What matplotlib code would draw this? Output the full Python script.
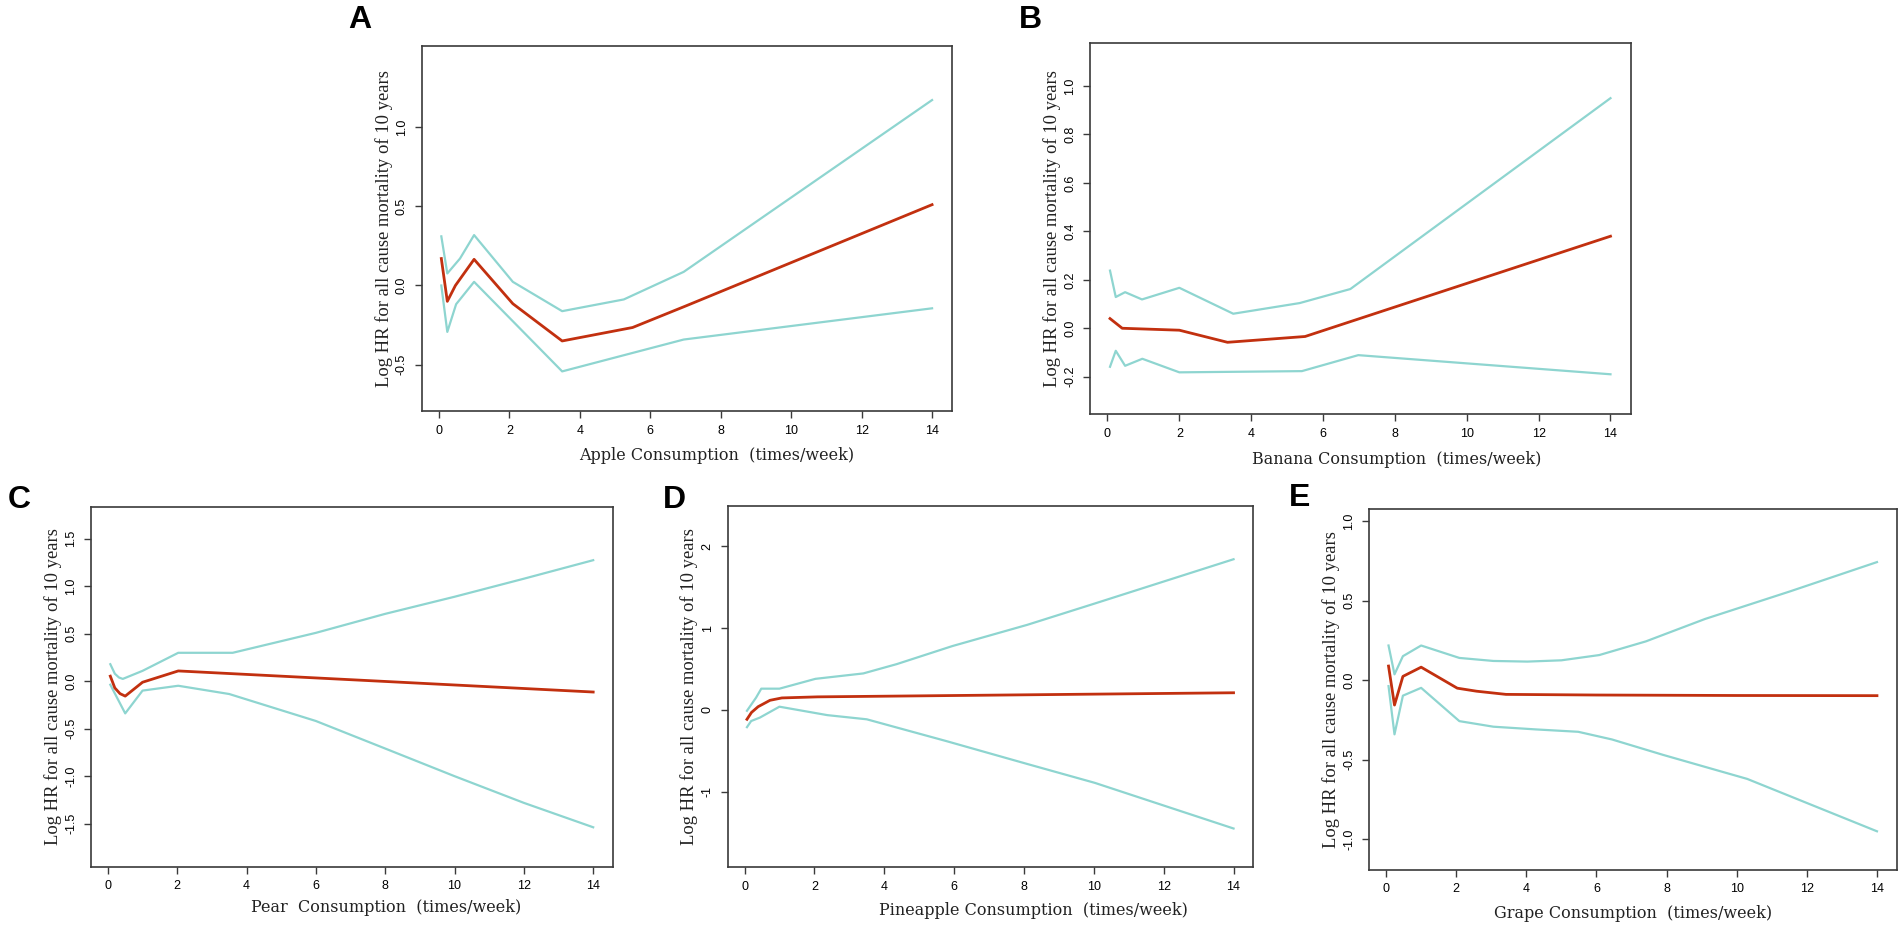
import matplotlib
matplotlib.use("Agg")
import matplotlib.pyplot as plt

W, H = 1902, 930
RED = "#C2300F"
CYAN = "#8ED5D0"
BOX = "#3a3a3a"

# ---------------- data ----------------
# A: Apple
apple_x_hr = [0.07, 0.24, 0.47, 1.0, 2.1, 3.5, 5.5, 7.0, 14]
apple_hr = [0.17, -0.10, 0.0, 0.165, -0.115, -0.35, -0.265, -0.13, 0.51]
apple_x_up = [0.07, 0.24, 0.6, 1.0, 2.1, 3.5, 5.25, 6.95, 14]
apple_up = [0.31, 0.076, 0.17, 0.318, 0.023, -0.162, -0.088, 0.086, 1.17]
apple_x_lo = [0.07, 0.24, 0.49, 1.0, 3.5, 6.95, 14]
apple_lo = [0.0, -0.293, -0.118, 0.023, -0.542, -0.341, -0.144]

# B: Banana
banana_x_hr = [0.07, 0.41, 2.0, 3.34, 5.5, 14]
banana_hr = [0.04, 0.0, -0.008, -0.058, -0.034, 0.38]
banana_x_up = [0.07, 0.23, 0.49, 0.96, 2.0, 3.5, 5.35, 6.76, 14]
banana_up = [0.238, 0.129, 0.149, 0.119, 0.167, 0.06, 0.104, 0.162, 0.95]
banana_x_lo = [0.07, 0.23, 0.49, 0.97, 2.0, 5.41, 6.98, 14]
banana_lo = [-0.159, -0.093, -0.155, -0.126, -0.182, -0.177, -0.111, -0.19]

# C: Pear
pear_x_hr = [0.07, 0.2, 0.35, 0.5, 1.0, 2.03, 14]
pear_hr = [0.054, -0.07, -0.13, -0.156, -0.01, 0.109, -0.113]
pear_x_up = [0.07, 0.2, 0.32, 0.43, 1.0, 2.03, 3.6, 6.0, 8.0, 10.0, 12.0, 14]
pear_up = [0.18, 0.08, 0.04, 0.025, 0.11, 0.30, 0.30, 0.51, 0.71, 0.89, 1.08, 1.275]
pear_x_lo = [0.07, 0.5, 1.0, 2.03, 3.5, 6.0, 8.0, 10.0, 12.0, 14]
pear_lo = [-0.036, -0.338, -0.098, -0.047, -0.134, -0.418, -0.708, -0.999, -1.28, -1.537]

# D: Pineapple
pine_x_hr = [0.07, 0.2, 0.39, 0.73, 1.07, 2.09, 14]
pine_hr = [-0.114, -0.03, 0.04, 0.118, 0.147, 0.16, 0.21]
pine_x_up = [0.07, 0.33, 0.48, 1.0, 2.03, 3.4, 4.36, 5.95, 8.1, 10.03, 14]
pine_up = [-0.01, 0.15, 0.26, 0.26, 0.38, 0.446, 0.56, 0.78, 1.04, 1.30, 1.84]
pine_x_lo = [0.07, 0.19, 0.44, 1.0, 2.37, 3.5, 5.77, 8.1, 10.03, 14]
pine_lo = [-0.21, -0.135, -0.093, 0.04, -0.063, -0.114, -0.379, -0.66, -0.89, -1.447]

# E: Grape
grape_x_hr = [0.07, 0.24, 0.48, 1.0, 2.03, 2.58, 3.42, 6.0, 10.0, 14]
grape_hr = [0.089, -0.156, 0.024, 0.082, -0.05, -0.069, -0.089, -0.093, -0.096, -0.097]
grape_x_up = [0.07, 0.24, 0.48, 1.0, 2.09, 3.06, 4.03, 5.0, 6.08, 7.41, 9.1, 11.52, 14]
grape_up = [0.218, 0.037, 0.151, 0.218, 0.14, 0.121, 0.117, 0.125, 0.158, 0.244, 0.385, 0.558, 0.742]
grape_x_lo = [0.07, 0.24, 0.48, 1.0, 2.09, 3.06, 4.27, 5.48, 6.44, 7.9, 10.3, 14]
grape_lo = [-0.037, -0.34, -0.097, -0.048, -0.257, -0.292, -0.309, -0.324, -0.372, -0.469, -0.62, -0.949]

x_ticks = [0, 2, 4, 6, 8, 10, 12, 14]
ylabel_text = "Log HR for all cause mortality of 10 years"
xlabels = ["Apple Consumption  (times/week)",
           "Banana Consumption  (times/week)",
           "Pear  Consumption  (times/week)",
           "Pineapple Consumption  (times/week)",
           "Grape Consumption  (times/week)"]
panel_letters = ["A", "B", "C", "D", "E"]

# ---------------- layout (pixels: left, right, top, bottom) ----------------
boxes = [
    (421.7, 951.7, 46.0, 410.7),
    (1090.0, 1630.5, 42.7, 414.0),
    (91.0, 612.5, 507.0, 866.6),
    (727.5, 1253.0, 506.0, 867.0),
    (1369.0, 1896.5, 509.4, 869.5),
]
ylims = [(-0.79, 1.511), (-0.354, 1.179), (-1.951, 1.835), (-1.917, 2.49), (-1.189, 1.073)]
yticks = [[-0.5, 0.0, 0.5, 1.0],
          [-0.2, 0.0, 0.2, 0.4, 0.6, 0.8, 1.0],
          [-1.5, -1.0, -0.5, 0.0, 0.5, 1.0, 1.5],
          [-1, 0, 1, 2],
          [-1.0, -0.5, 0.0, 0.5, 1.0]]
ytick_fmt = ["{:.1f}", "{:.1f}", "{:.1f}", "{:.0f}", "{:.1f}"]
letter_pos = [(360, 20), (1030, 20), (19, 500), (674, 500), (1300, 498)]
xlabel_dx = [30, 36, 34, 43, 0]
xlabel_dy = [45, 45, 41, 43, 44]

series = [
    (apple_x_hr, apple_hr, apple_x_up, apple_up, apple_x_lo, apple_lo),
    (banana_x_hr, banana_hr, banana_x_up, banana_up, banana_x_lo, banana_lo),
    (pear_x_hr, pear_hr, pear_x_up, pear_up, pear_x_lo, pear_lo),
    (pine_x_hr, pine_hr, pine_x_up, pine_up, pine_x_lo, pine_lo),
    (grape_x_hr, grape_hr, grape_x_up, grape_up, grape_x_lo, grape_lo),
]

fig = plt.figure(figsize=(W / 100, H / 100), dpi=100)
fig.patch.set_facecolor("white")

for i, (L, R, T, B) in enumerate(boxes):
    ax = fig.add_axes([L / W, 1 - B / H, (R - L) / W, (B - T) / H])
    xh, yh, xu, yu, xl, yl = series[i]
    ax.plot(xu, yu, color=CYAN, lw=1.6, solid_joinstyle="round")
    ax.plot(xl, yl, color=CYAN, lw=1.6, solid_joinstyle="round")
    ax.plot(xh, yh, color=RED, lw=2.0, solid_joinstyle="round")
    ax.set_xlim(-0.487, 14.557)
    ax.set_ylim(*ylims[i])
    ax.set_xticks(x_ticks)
    ax.set_xticklabels([str(t) for t in x_ticks], fontfamily="Liberation Sans", fontsize=9)
    ax.set_yticks(yticks[i])
    ax.set_yticklabels([ytick_fmt[i].format(t) for t in yticks[i]],
                       fontfamily="Liberation Sans", fontsize=9,
                       rotation=90, va="center")
    ax.tick_params(axis="both", direction="out", length=5, width=1.0,
                   color=BOX, pad=5)
    for s in ax.spines.values():
        s.set_color(BOX)
        s.set_linewidth(1.2)
    # axis labels
    fig.text((L - 38) / W, 1 - ((T + B) / 2) / H, ylabel_text,
             rotation=90, ha="center", va="center",
             fontfamily="Liberation Serif", fontsize=13.4, color="#222222")
    fig.text(((L + R) / 2 + xlabel_dx[i]) / W, 1 - (B + xlabel_dy[i]) / H, xlabels[i],
             ha="center", va="center", fontfamily="DejaVu Serif",
             fontsize=11.5, color="#222222")
    lx, ly = letter_pos[i]
    fig.text(lx / W, 1 - ly / H, panel_letters[i], ha="center", va="center",
             fontfamily="Liberation Sans", fontweight="bold", fontsize=23,
             color="black")

fig.savefig("out.png", dpi=100, facecolor="white")
